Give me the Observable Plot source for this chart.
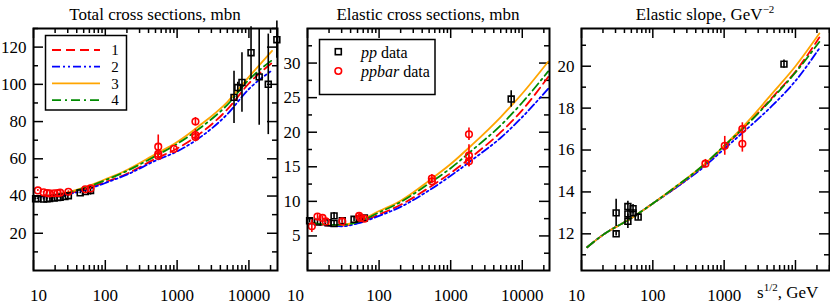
<!DOCTYPE html>
<html><head><meta charset="utf-8">
<script src="https://cdn.jsdelivr.net/npm/d3@7"></script>
<script src="https://cdn.jsdelivr.net/npm/@observablehq/plot@0.6"></script>
<style>
body{margin:0;background:#fff;}
#wrap{position:relative;width:830px;height:304px;overflow:hidden;background:#fff;font-family:"Liberation Serif","DejaVu Serif",serif;}
.pan{position:absolute;top:0;}
#over{position:absolute;left:0;top:0;}
svg text{font-family:"Liberation Serif","DejaVu Serif",serif !important;}
</style></head><body><div id="wrap"></div>
<script>
// ---------- Total cross sections (mbn) ----------
const totCurveS = [12, 20, 50, 100, 200, 500, 1000, 2000, 5000, 10000, 21000];
const tot1 = [39.8, 40.2, 43.5, 47.5, 52.0, 60.0, 65.5, 73.0, 86.5, 100.5, 111.5];
const tot2 = [39.7, 40.0, 43.0, 47.0, 51.5, 59.0, 64.0, 71.0, 84.0, 97.5, 107.5];
const tot3 = [40.0, 40.6, 44.5, 49.0, 54.0, 62.5, 69.0, 77.5, 90.5, 104.0, 118.0];
const tot4 = [40.0, 40.5, 44.2, 48.5, 53.5, 61.5, 68.0, 76.0, 89.0, 102.5, 113.0];
const totPPs = [10.7, 11.5, 13.8, 15.4, 16.8, 19.4, 21.7, 23.5, 27.4, 30.6, 44.7, 52.8, 62.3, 6200, 7000, 8000, 10700, 13900, 18600, 24500];
const totPPv = [38.5, 38.6, 38.4, 38.5, 38.7, 38.9, 39.2, 39.3, 39.7, 40.2, 41.7, 42.4, 43.0, 93, 98.3, 101, 117, 104, 100, 124];
const totPPe = [0.5, 0.5, 0.5, 0.5, 0.5, 0.5, 0.5, 0.5, 0.5, 0.5, 0.5, 0.5, 2.5, 14, 2.8, 16, 14, 26, 27, 10];
const totPBs = [11.5, 13.8, 15.4, 16.8, 19.4, 21.7, 23.5, 30.6, 52.6, 62.3, 546, 546, 546, 900, 1800, 1800, 1800];
const totPBv = [43.0, 42.0, 41.6, 41.4, 41.5, 41.6, 41.8, 42.3, 43.6, 44.1, 61.5, 62.6, 66.5, 65.3, 72.8, 71.7, 80.0];
const totPBe = [0.5, 0.5, 0.5, 0.5, 0.5, 0.5, 0.5, 0.5, 0.6, 0.6, 1.5, 1.2, 6.3, 0.7, 3.1, 2.0, 2.2];
const totYTicks = [20, 40, 60, 80, 100, 120];

// ---------- Elastic cross sections (mbn) ----------
const elCurveS = [12, 20, 30, 50, 100, 200, 500, 1000, 2000, 5000, 10000, 23000];
const el1 = [6.8, 6.5, 6.5, 6.9, 8.1, 9.5, 12.0, 14.1, 16.5, 20.0, 23.2, 28.0];
const el2 = [6.8, 6.5, 6.4, 6.8, 7.9, 9.2, 11.6, 13.7, 16.0, 19.2, 22.2, 26.3];
const el3 = [6.9, 6.6, 6.6, 7.1, 8.6, 10.1, 13.0, 15.4, 18.2, 22.2, 25.6, 30.2];
const el4 = [6.9, 6.6, 6.6, 7.0, 8.4, 9.9, 12.6, 14.8, 17.4, 21.0, 24.3, 28.8];
const elPPs = [10.7, 13.8, 19.4, 23.5, 23.5, 30.6, 44.7, 52.8, 62.3, 7000];
const elPPv = [7.2, 7.0, 6.9, 6.8, 7.9, 7.2, 7.4, 7.5, 7.6, 24.8];
const elPPe = [0.3, 0.3, 0.3, 0.3, 0.5, 0.3, 0.3, 0.3, 0.3, 1.2];
const elPBs = [11.5, 13.8, 16.2, 18, 30.6, 52.6, 55, 62.3, 546, 546, 1800, 1800, 1800];
const elPBv = [6.4, 7.8, 7.6, 7.1, 7.1, 7.9, 7.6, 7.5, 13.3, 12.9, 19.7, 16.6, 15.8];
const elPBe = [0.9, 0.4, 0.3, 0.3, 0.3, 0.4, 0.3, 0.3, 0.6, 0.3, 0.9, 1.6, 0.8];
const elYTicks = [5, 10, 15, 20, 25, 30];

// ---------- Elastic slope (GeV^-2) ----------
const slCurveS = [12, 20, 50, 100, 200, 500, 1000, 2000, 5000, 10000, 21600];
const sl1 = [11.36, 11.95, 12.75, 13.45, 14.15, 15.2, 16.15, 17.15, 18.6, 19.75, 21.37];
const sl2 = [11.36, 11.95, 12.75, 13.45, 14.15, 15.15, 16.05, 16.95, 18.2, 19.3, 20.85];
const sl3 = [11.36, 11.95, 12.75, 13.45, 14.2, 15.25, 16.2, 17.25, 18.8, 20.0, 21.56];
const sl4 = [11.36, 11.95, 12.75, 13.45, 14.2, 15.25, 16.2, 17.15, 18.55, 19.7, 21.16];
const slPPs = [30.6, 30.6, 44.7, 44.7, 44.7, 52.8, 52.8, 62.3, 6900];
const slPPv = [13.0, 12.0, 13.3, 12.95, 12.6, 13.2, 13.0, 12.8, 20.1];
const slPPe = [0.65, 0.1, 0.25, 0.2, 0.35, 0.2, 0.15, 0.15, 0.2];
const slPBs = [546, 1020, 1800, 1800];
const slPBv = [15.35, 16.2, 17.0, 16.3];
const slPBe = [0.2, 0.45, 0.3, 0.4];
const slYTicks = [12, 14, 16, 18, 20];

const xTicks = [10, 100, 1000, 10000];
const modelNames = ["1", "2", "3", "4"];
const seriesNames = ["pp", "ppbar"];

// ---------- styles ----------
const modelStyle = [
  {color: "#ff0000", dash: "9,5"},
  {color: "#0000ff", dash: "8,3,2,3,2,3"},
  {color: "#ffa500", dash: null},
  {color: "#008b00", dash: "9,4,2,4"}
];
const ppStyle = {color: "#000", symbol: "square", r: 3.3};
const pbStyle = {color: "#ff0000", symbol: "circle", r: 3.3};
const H = 304, MT = 28, MB = 34;
const FONT = "'Liberation Serif', 'DejaVu Serif', serif";

function rows(s, v, e) { return s.map((x, i) => ({s: x, v: v[i], e: e ? e[i] : 0})); }

function makePanel(c) {
  const IH = H - MT - MB, IW = c.width - c.ml - c.mr;
  const xMinor = [];
  for (const d of xTicks) for (let k = 2; k < 10; k++) { const v = k * d; if (v <= c.xDomain[1]) xMinor.push(v); }
  const xMaj = xTicks.filter(v => v >= c.xDomain[0] && v <= c.xDomain[1]);
  const yMinor = d3.range(c.yMinorStart, c.yDomain[1] + 1e-9, c.yStep);
  const tk = {stroke: "#000", strokeWidth: 1.5};
  const marks = [
    Plot.tickX(xMaj, {x: d => d, insetTop: IH - 10, ...tk}),
    Plot.tickX(xMaj, {x: d => d, insetBottom: IH - 10, ...tk}),
    Plot.tickX(xMinor, {x: d => d, insetTop: IH - 5, ...tk}),
    Plot.tickX(xMinor, {x: d => d, insetBottom: IH - 5, ...tk}),
    Plot.tickY(c.yTicks, {y: d => d, insetRight: IW - 10, ...tk}),
    Plot.tickY(c.yTicks, {y: d => d, insetLeft: IW - 10, ...tk}),
    Plot.tickY(yMinor, {y: d => d, insetRight: IW - 5, ...tk}),
    Plot.tickY(yMinor, {y: d => d, insetLeft: IW - 5, ...tk}),
    Plot.axisX([10], {tickSize: 0, tickPadding: 18, dx: c.dx10, tickFormat: d => String(d)}),
    Plot.axisX(c.xLabels, {tickSize: 0, tickPadding: 18, tickFormat: d => String(d)}),
    Plot.axisY(c.yTicks, {tickSize: 0, tickPadding: 7, tickFormat: d => String(d)})
  ];
  c.curves.forEach((vals, j) => {
    const m = modelStyle[j];
    marks.push(Plot.line(rows(c.curveS, vals), {x: "s", y: "v", stroke: m.color, strokeWidth: 1.8,
      strokeDasharray: m.dash, curve: "monotone-x"}));
  });
  for (const [d, st] of c.data) {
    marks.push(Plot.ruleX(d, {x: "s", y1: r => r.v - r.e, y2: r => r.v + r.e, stroke: st.color, strokeWidth: 1.6}));
    marks.push(Plot.dot(d, {x: "s", y: "v", symbol: st.symbol, r: st.r, stroke: st.color, strokeWidth: 1.6, fill: "none"}));
  }
  marks.push(Plot.frame({stroke: "#000", strokeWidth: 2}));
  return Plot.plot({
    width: c.width, height: H, marginLeft: c.ml, marginRight: c.mr, marginTop: MT, marginBottom: MB,
    x: {type: "log", domain: c.xDomain, label: null},
    y: {domain: c.yDomain, label: null},
    style: {fontFamily: FONT, fontSize: "17px", color: "#000", background: "transparent", overflow: "visible"},
    marks
  });
}

const panels = [
  {left: 0, width: 280, ml: 33, mr: 3, xDomain: [10, 25000], yDomain: [0, 130], yTicks: totYTicks,
   yMinorStart: 10, yStep: 20, dx10: 5, xLabels: [100, 1000, 10000],
   curveS: totCurveS, curves: [tot1, tot2, tot3, tot4],
   data: [[rows(totPPs, totPPv, totPPe), ppStyle], [rows(totPBs, totPBv, totPBe), pbStyle]]},
  {left: 280, width: 272, ml: 27, mr: 3, xDomain: [10, 24000], yDomain: [0, 35], yTicks: elYTicks,
   yMinorStart: 2.5, yStep: 5, dx10: -12, xLabels: [100, 1000, 10000],
   curveS: elCurveS, curves: [el1, el2, el3, el4],
   data: [[rows(elPPs, elPPv, elPPe), ppStyle], [rows(elPBs, elPBv, elPBe), pbStyle]]},
  {left: 552, width: 278, ml: 29, mr: 1, xDomain: [10, 30000], yDomain: [10.25, 21.8], yTicks: slYTicks,
   yMinorStart: 11, yStep: 2, dx10: -5, xLabels: [100, 1000],
   curveS: slCurveS, curves: [sl1, sl2, sl3, sl4],
   data: [[rows(slPPs, slPPv, slPPe), ppStyle], [rows(slPBs, slPBv, slPBe), pbStyle]]}
];

const wrap = document.getElementById("wrap");
for (const p of panels) {
  const div = document.createElement("div");
  div.className = "pan";
  div.style.left = p.left + "px";
  div.style.width = p.width + "px";
  div.appendChild(makePanel(p));
  wrap.appendChild(div);
}

// ---------- overlay: titles, legends, axis label ----------
const over = d3.select(wrap).append("svg").attr("id", "over").attr("width", 830).attr("height", 304)
  .style("font-family", FONT);
const titles = [
  {x: 155, text: "Total cross sections, mbn"},
  {x: 428, text: "Elastic cross sections, mbn"},
  {x: 705, text: "Elastic slope, GeV", sup: "\u22122"}
];
for (const t of titles) {
  const tx = over.append("text").attr("x", t.x).attr("y", 20).attr("text-anchor", "middle")
    .attr("font-size", 17).text(t.text);
  if (t.sup) tx.append("tspan").attr("font-size", 11).attr("dy", -7).text(t.sup);
}
// legend 1 (models)
const lg1 = over.append("g");
lg1.append("rect").attr("x", 45.5).attr("y", 35.5).attr("width", 81).attr("height", 74.5)
  .attr("fill", "#fff").attr("stroke", "#000").attr("stroke-width", 1.5);
modelNames.forEach((n, i) => {
  const y = 50 + i * 16.7, m = modelStyle[i];
  lg1.append("line").attr("x1", 52).attr("x2", 100).attr("y1", y).attr("y2", y)
    .attr("stroke", m.color).attr("stroke-width", 1.8).attr("stroke-dasharray", m.dash);
  lg1.append("text").attr("x", 115).attr("y", y).attr("dy", "0.35em").attr("text-anchor", "middle")
    .attr("font-size", 15).text(n);
});
// legend 2 (data)
const lg2 = over.append("g");
lg2.append("rect").attr("x", 319.5).attr("y", 39.5).attr("width", 115.5).attr("height", 55)
  .attr("fill", "#fff").attr("stroke", "#000").attr("stroke-width", 1.5);
lg2.append("rect").attr("x", 335.3).attr("y", 48.7).attr("width", 6).attr("height", 6)
  .attr("fill", "none").attr("stroke", "#000").attr("stroke-width", 1.6);
lg2.append("circle").attr("cx", 338.3).attr("cy", 71).attr("r", 3.3)
  .attr("fill", "none").attr("stroke", "#ff0000").attr("stroke-width", 1.6);
seriesNames.forEach((n, i) => {
  const t = lg2.append("text").attr("x", 361).attr("y", 52 + i * 19.3).attr("dy", "0.35em").attr("font-size", 16);
  t.append("tspan").attr("font-style", "italic").text(n);
  t.append("tspan").text(" data");
});
// x-axis label of third panel
const xl = over.append("text").attr("x", 757).attr("y", 298).attr("font-size", 17);
xl.append("tspan").text("s");
xl.append("tspan").attr("font-size", 11).attr("dy", -7).text("1/2");
xl.append("tspan").attr("dy", 7).text(", GeV");
</script>
</body></html>
